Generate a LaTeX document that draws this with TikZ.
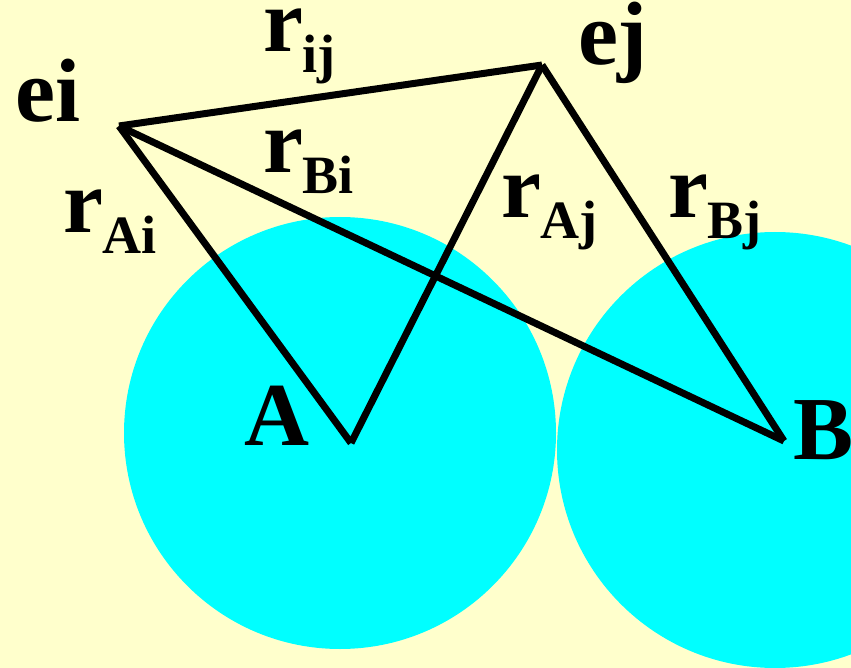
\documentclass[tikz,border=0pt]{standalone}
\usepackage{fontspec}
\setmainfont{Liberation Serif}
\definecolor{bgyellow}{HTML}{FFFFCC}
\definecolor{ballcyan}{HTML}{00FFFF}
\newcommand{\bigtxt}{\fontsize{90}{100}\selectfont\bfseries}
\newcommand{\subtxt}[1]{\raisebox{-21pt}{\fontsize{54}{60}\selectfont\bfseries #1}}
\tikzset{
  lbl/.style={anchor=base west, inner sep=0pt, outer sep=0pt, font=\bigtxt},
  bond/.style={line width=7pt, line cap=butt, black},
  ball/.style={fill=ballcyan, draw=none}
}
\begin{document}
\begin{tikzpicture}[x=1pt,y=-1pt]
  \fill[bgyellow] (0,0) rectangle (851,668);
  \useasboundingbox (0,0) rectangle (851,668);
  \fill[ball] (340,433) circle (216);
  \fill[ball] (775,450) circle (218);
  \coordinate (ei) at (119,126);
  \coordinate (ej) at (542,65);
  \coordinate (A) at (351,443);
  \coordinate (B) at (784,441);
  \draw[bond] (ei) -- (ej);
  \draw[bond] (ei) -- (A);
  \draw[bond] (ei) -- (B);
  \draw[bond] (ej) -- (A);
  \draw[bond] (ej) -- (B);
  \node[lbl] (tei) at (16,122) {ei};
  \node[lbl] (tej) at (578,65) {ej};
  \node[lbl] (trij) at (263,52) {r\subtxt{ij}};
  \node[lbl] (trbi) at (263,173) {r\subtxt{Bi}};
  \node[lbl] (trai) at (63,233) {r\subtxt{Ai}};
  \node[lbl] (traj) at (501,218) {r\subtxt{Aj}};
  \node[lbl] (trbj) at (668,218) {r\subtxt{Bj}};
  \node[lbl] (tA) at (244,445) {A};
  \node[lbl] (tB) at (793,459) {B};
\end{tikzpicture}
\end{document}
